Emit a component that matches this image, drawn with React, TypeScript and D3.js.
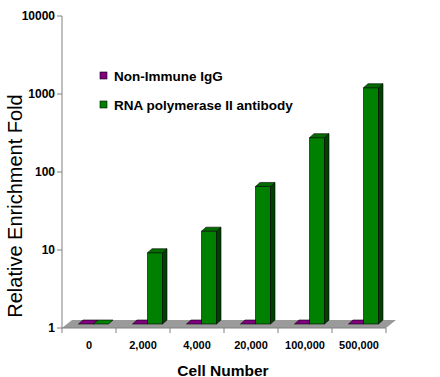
import React from "react";
import * as d3 from "d3";

const categories = ["0", "2,000", "4,000", "20,000", "100,000", "500,000"];
const igg = [1, 1, 1, 1, 1, 1];
const rnaPol = [1, 8.2, 15.5, 58, 245, 1070];
const yTicks = [1, 10, 100, 1000, 10000];
const seriesNames = ["Non-Immune IgG", "RNA polymerase II antibody"];

const W = 440;
const H = 377;
const FONT = "'Liberation Sans', Arial, sans-serif";

const x0 = 62;
const x1 = 386;
const yTop = 16;
const yBase = 328;
const floorD = { dx: 10, dy: -8 };
const barOff = { dx: 4.5, dy: -4 };
const barD = { dx: 4.5, dy: -4 };
const barW = 15;

const colors = [
  { front: "#800080", side: "#400040", top: "#6a006a" },
  { front: "#008000", side: "#004000", top: "#006c00" },
];

function Bar({ x, yTopV, yBot, c }: { x: number; yTopV: number; yBot: number; c: any }) {
  const w = barW;
  const h = Math.max(0, yBot - yTopV);
  const { dx, dy } = barD;
  const front = `M${x},${yTopV}h${w}v${h}h${-w}Z`;
  const side = `M${x + w},${yTopV}l${dx},${dy}v${h}l${-dx},${-dy}Z`;
  const top = `M${x},${yTopV}l${dx},${dy}h${w}l${-dx},${-dy}Z`;
  return (
    <g stroke="#000" strokeWidth={0.6} strokeLinejoin="round">
      {h > 0 && <path d={front} fill={c.front} />}
      {h > 0 && <path d={side} fill={c.side} />}
      <path d={top} fill={h > 0 ? c.top : c.front} />
    </g>
  );
}

export default function App() {
  const y = d3.scaleLog().domain([1, 10000]).range([yBase, yTop]);
  const xb = d3.scaleBand().domain(categories).range([x0, x1]).paddingInner(0).paddingOuter(0);
  const bw = xb.bandwidth();
  const gap = (bw - 2 * barW) / 2;

  const series = [igg, rnaPol];

  return (
    <svg width={W} height={H} style={{ position: "absolute", left: 0, top: 0, background: "#fff" }} fontFamily={FONT}>
      {/* floor */}
      <path
        d={`M${x0},${yBase}L${x1},${yBase}l${floorD.dx},${floorD.dy}L${x0 + floorD.dx},${yBase + floorD.dy}Z`}
        fill="#9a9a9a"
      />
      {/* y axis */}
      <line x1={x0} x2={x0} y1={yTop} y2={yBase + 5} stroke="#808080" strokeWidth={1} />
      {yTicks.map((t) => (
        <g key={t}>
          <line x1={x0 - 5} x2={x0} y1={y(t)} y2={y(t)} stroke="#808080" strokeWidth={1} />
          <text x={55} y={y(t)} dy="0.36em" textAnchor="end" fontSize={12} fontWeight="bold" fill="#000">
            {t}
          </text>
        </g>
      ))}
      {/* x axis */}
      <line x1={x0} x2={x1} y1={yBase} y2={yBase} stroke="#808080" strokeWidth={1} />
      {categories.map((c) => (
        <line key={"t" + c} x1={(xb(c) as number) + bw} x2={(xb(c) as number) + bw} y1={yBase} y2={yBase + 5} stroke="#808080" strokeWidth={1} />
      ))}
      {categories.map((c) => (
        <text key={"l" + c} x={(xb(c) as number) + bw / 2} y={349} textAnchor="middle" fontSize={11} fontWeight="bold" fill="#000">
          {c}
        </text>
      ))}
      {/* bars */}
      {categories.map((c, i) => (
        <g key={"b" + c}>
          {series.map((s, k) => {
            const bx = (xb(c) as number) + gap + barOff.dx + k * barW;
            const yb = yBase + barOff.dy;
            const yt = y(s[i]) + barOff.dy;
            return <Bar key={k} x={bx} yTopV={yt} yBot={yb} c={colors[k]} />;
          })}
        </g>
      ))}
      {/* legend */}
      {seriesNames.map((n, k) => (
        <g key={n}>
          <rect x={100} y={72 + k * 29} width={7} height={7} fill={colors[k].front} stroke="#000" strokeWidth={0.6} />
          <text x={114} y={80.5 + k * 29} fontSize={13.5} fontWeight="bold" fill="#000">
            {n}
          </text>
        </g>
      ))}
      {/* titles */}
      <text transform={`translate(21.5,206) rotate(-90)`} textAnchor="middle" fontSize={20} fill="#000">
        Relative Enrichment Fold
      </text>
      <text x={223} y={375.5} textAnchor="middle" fontSize={15.5} fontWeight="bold" fill="#000">
        Cell Number
      </text>
    </svg>
  );
}
